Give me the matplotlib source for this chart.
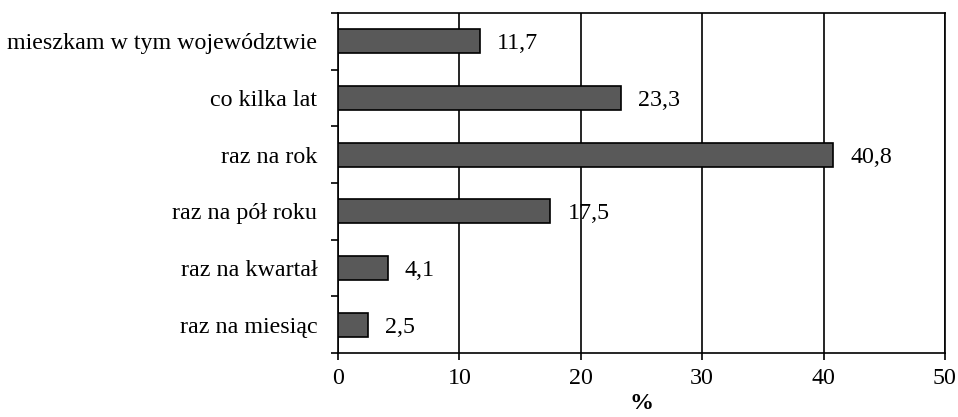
import matplotlib
matplotlib.rcParams["font.family"] = ["Liberation Serif", "DejaVu Serif"]
import matplotlib.pyplot as plt
import numpy as np

categories = ["raz na miesiąc", "raz na kwartał", "raz na pół roku",
              "raz na rok", "co kilka lat", "mieszkam w tym województwie"]
values = [2.5, 4.1, 17.5, 40.8, 23.3, 11.7]
xticks = [0, 10, 20, 30, 40, 50]

FS = 17.3

fig = plt.figure(figsize=(9.58, 4.17), dpi=100)
ax = fig.add_axes([0.3528, 0.1535, 0.6336, 0.8153])

pos = np.arange(len(categories))
ax.barh(pos, values, height=0.42, color="#595959", edgecolor="black", lw=1.2, zorder=3)
for p, v in zip(pos, values):
    ax.text(v + 1.4, p, f"{v:.1f}".replace(".", ","), va="center_baseline", ha="left",
            fontsize=FS, zorder=4)

ax.set_xlim(0, 50)
ax.set_ylim(-0.5, len(categories) - 0.5)
ax.set_xticks(xticks)
ax.set_xticklabels([str(t) for t in xticks], fontsize=FS)
ax.xaxis.grid(True, color="black", lw=1.2, zorder=1)
ax.set_axisbelow(True)

# category labels sit between tick marks placed at the band edges
ax.set_yticks(pos)
ax.set_yticklabels(categories, fontsize=FS)
ax.tick_params(axis="y", length=0, pad=15)
ax.set_yticks(np.arange(-0.5, len(categories)), minor=True)
ax.tick_params(axis="y", which="minor", length=5, width=1.2, direction="out")
ax.tick_params(axis="x", length=5, width=1.2, direction="out", pad=6)

for s in ax.spines.values():
    s.set_linewidth(1.2)

ax.set_xlabel("%", fontsize=FS, fontweight="bold", labelpad=3)

fig.savefig("out.png", dpi=100)
